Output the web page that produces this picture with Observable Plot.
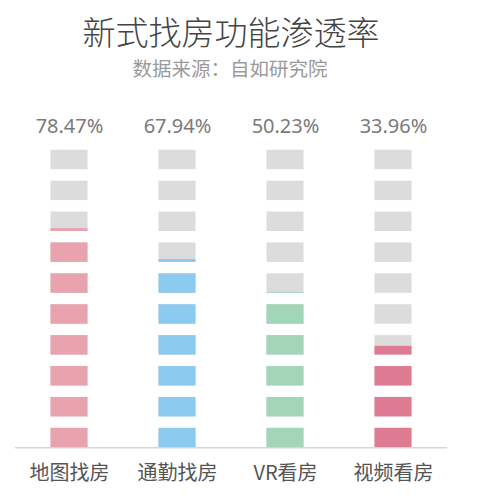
<!DOCTYPE html>
<html>
<head>
<meta charset="utf-8">
<script src="https://cdn.jsdelivr.net/npm/d3@7"></script>
<script src="https://cdn.jsdelivr.net/npm/@observablehq/plot@0.6"></script>
<style>
  html, body { margin: 0; padding: 0; background: #fff; }
  #wrap { position: relative; width: 500px; height: 500px; overflow: hidden; }
  #head { position: relative; width: 500px; height: 100px; }
  #title { position: absolute; left: 0; width: 462px; top: 15px; text-align: center;
           font-family: "Noto Sans CJK SC", sans-serif; font-size: 33px; font-weight: 300; line-height: 1; color: #444; }
  #sub { position: absolute; left: 0; width: 460px; top: 58px; text-align: center;
         font-family: "Noto Sans CJK SC", sans-serif; font-size: 19.5px; line-height: 1; color: #9a9a9a; }
</style>
</head>
<body>
<div id="wrap">
  <div id="head">
    <div id="title">新式找房功能渗透率</div>
    <div id="sub">数据来源：自如研究院</div>
  </div>
  <div id="chart"></div>
</div>
<script>
const categories = ["地图找房", "通勤找房", "VR看房", "视频看房"];
const values = [78.47, 67.94, 50.23, 33.96];
const valueLabels = ["78.47%", "67.94%", "50.23%", "33.96%"];
// filled height in blocks as drawn in the picture (10 blocks per column)
const filledBlocks = [7.15, 6.15, 5.05, 3.45];
const colors = ["#e8a3ae", "#8ccaf0", "#a3d5b9", "#de7b92"];
const blockCount = 10;

const blockRatio = 0.63;
const bg = [];
const fg = [];
categories.forEach((c, i) => {
  for (let k = 0; k < blockCount; k++) {
    bg.push({cat: c, y1: k, y2: k + blockRatio});
    const f = filledBlocks[i] - k;
    if (f > 0) fg.push({cat: c, y1: k, y2: k + blockRatio * Math.min(1, f), color: colors[i]});
  }
});
const labels = categories.map((c, i) => ({cat: c, label: valueLabels[i], value: values[i]}));

const chart = Plot.plot({
  width: 500,
  height: 400,
  marginLeft: 15,
  marginRight: 53,
  marginTop: 0,
  marginBottom: 0,
  x: {type: "band", domain: categories, range: [15, 447], padding: 0, axis: null},
  y: {domain: [0, 10], range: [347.3, 38.3], axis: null},
  marks: [
    Plot.barY(bg, {x: "cat", y1: "y1", y2: "y2", fill: "#dcdcdc", insetLeft: 35.5, insetRight: 35.5}),
    Plot.barY(fg, {x: "cat", y1: "y1", y2: "y2", fill: d => d.color, insetLeft: 35.5, insetRight: 35.5}),
    Plot.ruleY([0], {stroke: "#d6d6d6", strokeWidth: 1.5}),
    Plot.text(labels, {x: "cat", text: "label", frameAnchor: "top", dy: 26, fontSize: 20,
      fill: "#7a7a7a", fontFamily: "Noto Sans, Noto Sans CJK SC, sans-serif", lineAnchor: "middle"}),
    Plot.text(labels, {x: "cat", text: "cat", frameAnchor: "bottom", dy: -27, fontSize: 20,
      fill: "#555", fontFamily: "Noto Sans CJK SC, sans-serif", lineAnchor: "middle"})
  ]
});
document.getElementById("chart").appendChild(chart);
</script>
</body>
</html>
